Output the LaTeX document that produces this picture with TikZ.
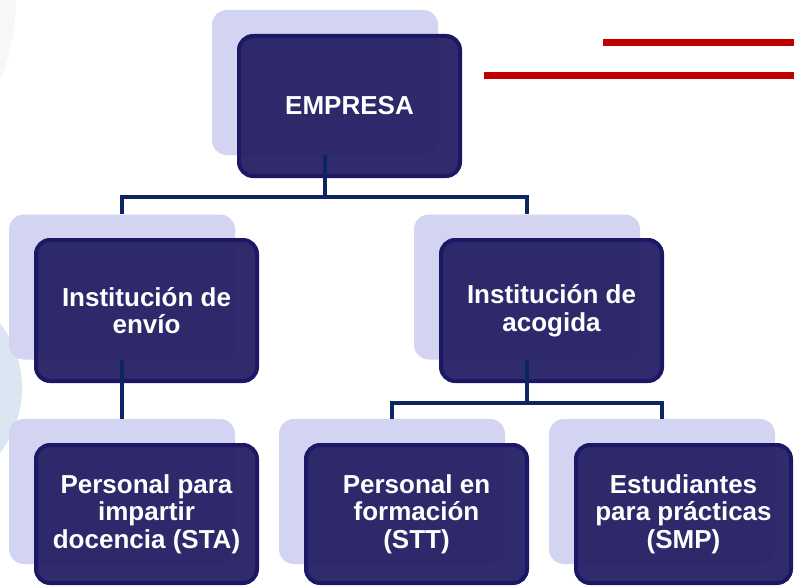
\documentclass[tikz,border=0pt]{standalone}
\usepackage{fontspec}
\setmainfont{Liberation Sans}
\definecolor{shadowc}{HTML}{D3D3F2}
\definecolor{frontc}{HTML}{282467}
\definecolor{borderc}{HTML}{1C1866}
\definecolor{linec}{HTML}{0E2563}
\definecolor{redc}{HTML}{C00000}
\definecolor{bluebg}{HTML}{DCE6F2}
\definecolor{graybg}{HTML}{F7F7F7}
\begin{document}
\begin{tikzpicture}[x=1pt,y=-1pt,
  shadowbox/.style={rectangle, rounded corners=15pt, fill=shadowc, draw=none,
    minimum width=226pt, minimum height=145pt, inner sep=0pt},
  frontbox/.style={rectangle, rounded corners=14pt, fill=frontc, fill opacity=0.97,
    text opacity=1, draw=borderc, draw opacity=1, line width=4pt, text=white,
    minimum width=221pt, minimum height=140pt, inner sep=0pt, align=center,
    font=\fontsize{26}{27.5}\selectfont\bfseries},
  conn/.style={draw=linec, line width=4pt},
  redline/.style={draw=redc, line width=7pt}]
\useasboundingbox (0,0) rectangle (794,586);
% background decorations
\fill[bluebg] (-85,388) circle (107);
\fill[graybg] (-192,0) circle (208);
\draw[redline] (603,43) -- (794,43);
\draw[redline] (484,75) -- (794,75);
% shadows
\node[shadowbox] (s0) at (325,82.5) {};
\node[shadowbox] (s1) at (122,287) {};
\node[shadowbox] (s2) at (527,287) {};
\node[shadowbox] (s3) at (122,491.5) {};
\node[shadowbox] (s4) at (392,491.5) {};
\node[shadowbox] (s5) at (662,491.5) {};
% front boxes
\node[frontbox] (f0) at (349.5,106) {EMPRESA};
\node[frontbox, minimum height=141pt] (f1) at (146.5,310.5) {Institución de\\envío};
\node[frontbox, minimum height=141pt] (f2) at (551.5,310.5) {Institución de\\acogida};
\node[frontbox, minimum height=138pt] (f3) at (146.5,514) {Personal para\\impartir\\docencia (STA)};
\node[frontbox, minimum height=138pt] (f4) at (416.5,514) {Personal en\\formación\\(STT)};
\node[frontbox, minimum height=138pt, minimum width=215pt] (f5) at (683.5,514) {Estudiantes\\para prácticas\\(SMP)};
% connectors
\coordinate (j0) at (325,197);
\coordinate (j1) at (527,403);
\draw[conn] (s0.south) -- (j0) -| (s1.north);
\draw[conn] (j0) -| (s2.north);
\draw[conn] (s1.south) -- (s3.north);
\draw[conn] (s2.south) -- (j1) -| (s4.north);
\draw[conn] (j1) -| (s5.north);
\end{tikzpicture}
\end{document}
